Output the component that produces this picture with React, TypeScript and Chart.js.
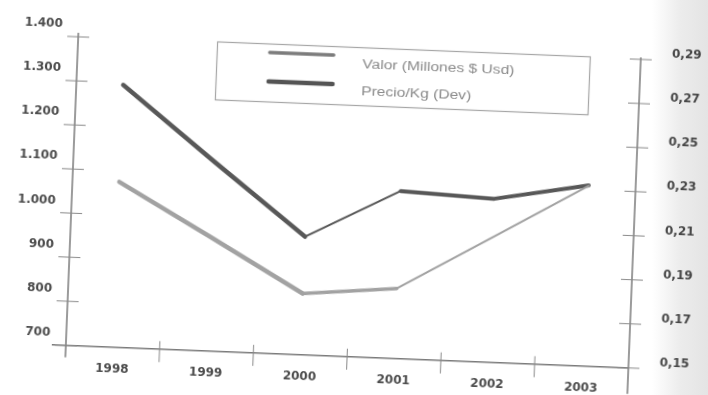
import React, { useEffect, useRef } from 'react';
import { Chart, registerables } from 'chart.js';

Chart.register(...registerables);

// ---- data ----
const years = ['1998', '1999', '2000', '2001', '2002', '2003'];
const valorMillones = [1075, 958, 839, 859, 984, 1109];
const precioKg = [0.269, 0.236, 0.2036, 0.226, 0.2242, 0.232];
const seriesLabels = ['Valor (Millones $ Usd)', 'Precio/Kg (Dev)'];
const leftRange = [700, 1400];
const rightRange = [0.15, 0.29];

// ---- styles ----
const seriesColors = ['#a2a2a2', '#585858'];
const legendColors = ['#7c7c7c', '#545454'];
const valorSegWidths = [4.5, 4.5, 3.5, 2, 2];
const precioSegWidths = [4.5, 4.5, 2, 4, 4];
const tickFont = { family: '"DejaVu Sans", sans-serif', size: 12, weight: 'bold' as const };
const tickColor = '#4c4c4c';

const fmtLeft = (v: number) =>
  v >= 1000 ? Math.floor(v / 1000) + '.' + String(Math.round(v % 1000)).padStart(3, '0') : String(v);
const fmtRight = (v: number) => v.toFixed(2).replace('.', ',');

const seg = (ctx: any, x1: number, y1: number, x2: number, y2: number) => {
  ctx.beginPath();
  ctx.moveTo(x1, y1);
  ctx.lineTo(x2, y2);
  ctx.stroke();
};

const axesPlugin = {
  id: 'scanAxes',
  beforeDatasetsDraw(chart: any) {
    const { ctx, chartArea: a, scales } = chart;
    const x = scales.x;
    const yL = scales.y;
    const yR = scales.y1;
    ctx.save();
    ctx.strokeStyle = '#7a7a7a';
    ctx.lineWidth = 1.5;
    seg(ctx, a.left - 14, a.bottom, a.right, a.bottom);
    seg(ctx, a.left, a.top - 4, a.left, a.bottom + 12);
    seg(ctx, a.right, a.top - 2, a.right, a.bottom + 26);
    ctx.lineWidth = 1;
    ctx.strokeStyle = '#8a8a8a';
    yL.ticks.forEach((t: any) => {
      const py = yL.getPixelForValue(t.value);
      seg(ctx, a.left - 11, py, a.left + 11, py);
    });
    yR.ticks.forEach((t: any) => {
      const py = yR.getPixelForValue(t.value);
      seg(ctx, a.right - 11, py, a.right + 11, py);
    });
    for (let i = 1; i < years.length; i++) {
      const px = (x.getPixelForValue(i - 1) + x.getPixelForValue(i)) / 2;
      seg(ctx, px, a.bottom - 8, px, a.bottom + 13);
    }
    ctx.restore();
  },
};

const legendBox = { x: 211.5, y: 47.5, w: 373, h: 58 };
const swatchX = [264, 328];
const swatchY = [56, 85];
const swatchW = [3.5, 4.5];
const textX = 357;
const textY = [64.5, 92];

const legendPlugin = {
  id: 'boxLegend',
  afterDraw(chart: any) {
    const ctx = chart.ctx;
    ctx.save();
    ctx.strokeStyle = '#a6a6a6';
    ctx.lineWidth = 1.2;
    ctx.strokeRect(legendBox.x, legendBox.y, legendBox.w, legendBox.h);
    chart.data.datasets.forEach((ds: any, i: number) => {
      ctx.strokeStyle = legendColors[i];
      ctx.lineWidth = swatchW[i];
      ctx.lineCap = 'round';
      seg(ctx, swatchX[0], swatchY[i], swatchX[1], swatchY[i]);
      ctx.save();
      ctx.translate(textX, textY[i]);
      ctx.scale(1.3, 1);
      ctx.fillStyle = '#8a8a8a';
      ctx.font = '12px "Liberation Sans", Arial, sans-serif';
      ctx.textBaseline = 'middle';
      ctx.textAlign = 'left';
      ctx.fillText(ds.label, 0, 0);
      ctx.restore();
    });
    ctx.restore();
  },
};

export default function App() {
  const ref = useRef<HTMLCanvasElement>(null);

  useEffect(() => {
    document.body.style.margin = '0';
    document.body.style.background = '#ffffff';
    if (!ref.current) return;
    const chart = new Chart(ref.current, {
      type: 'line',
      data: {
        labels: years,
        datasets: [
          {
            label: seriesLabels[0],
            data: valorMillones,
            yAxisID: 'y',
            borderColor: seriesColors[0],
            borderWidth: 4,
            pointRadius: 0,
            tension: 0,
            borderCapStyle: 'round',
            borderJoinStyle: 'round',
            segment: { borderWidth: (c: any) => valorSegWidths[c.p0DataIndex] },
          } as any,
          {
            label: seriesLabels[1],
            data: precioKg,
            yAxisID: 'y1',
            borderColor: seriesColors[1],
            borderWidth: 4,
            pointRadius: 0,
            tension: 0,
            borderCapStyle: 'round',
            borderJoinStyle: 'round',
            segment: { borderWidth: (c: any) => precioSegWidths[c.p0DataIndex] },
          } as any,
        ],
      },
      options: {
        responsive: false,
        animation: false,
        layout: { padding: { top: 48, left: 0, right: 0, bottom: 0 } },
        plugins: { legend: { display: false }, tooltip: { enabled: false } },
        scales: {
          x: {
            type: 'category',
            offset: true,
            grid: { display: false, drawTicks: false },
            border: { display: false },
            ticks: { font: tickFont, color: tickColor, padding: 15, maxRotation: 0, autoSkip: false },
            afterFit: (s: any) => {
              s.height = 36;
            },
          },
          y: {
            position: 'left',
            min: leftRange[0],
            max: leftRange[1],
            grid: { display: false, drawTicks: false },
            border: { display: false },
            ticks: {
              stepSize: 100,
              font: tickFont,
              color: tickColor,
              padding: 16,
              labelOffset: -12,
              callback: (v: any) => fmtLeft(Number(v)),
            },
            afterFit: (s: any) => {
              s.width = 72;
            },
          },
          y1: {
            position: 'right',
            min: rightRange[0],
            max: rightRange[1],
            grid: { display: false, drawTicks: false },
            border: { display: false },
            ticks: {
              stepSize: 0.02,
              font: tickFont,
              color: tickColor,
              padding: 31,
              labelOffset: -6,
              callback: (v: any) => fmtRight(Number(v)),
            },
            afterFit: (s: any) => {
              s.width = 73;
            },
          },
        },
      } as any,
      plugins: [axesPlugin, legendPlugin],
    });
    return () => chart.destroy();
  }, []);

  return (
    <div
      style={{
        position: 'fixed',
        left: 0,
        top: 0,
        width: 708,
        height: 395,
        overflow: 'hidden',
        background: '#ffffff',
      }}
    >
      <canvas
        ref={ref}
        width={708}
        height={395}
        style={{ display: 'block', transform: 'rotate(2.3deg)', transformOrigin: '354px 197.5px' }}
      />
      <div
        style={{
          position: 'absolute',
          left: 0,
          top: 0,
          width: 708,
          height: 395,
          pointerEvents: 'none',
          mixBlendMode: 'multiply',
          background: 'linear-gradient(to right, #ffffff 0px, #ffffff 652px, #ececec 680px, #e4e4e4 708px)',
        }}
      />
    </div>
  );
}
